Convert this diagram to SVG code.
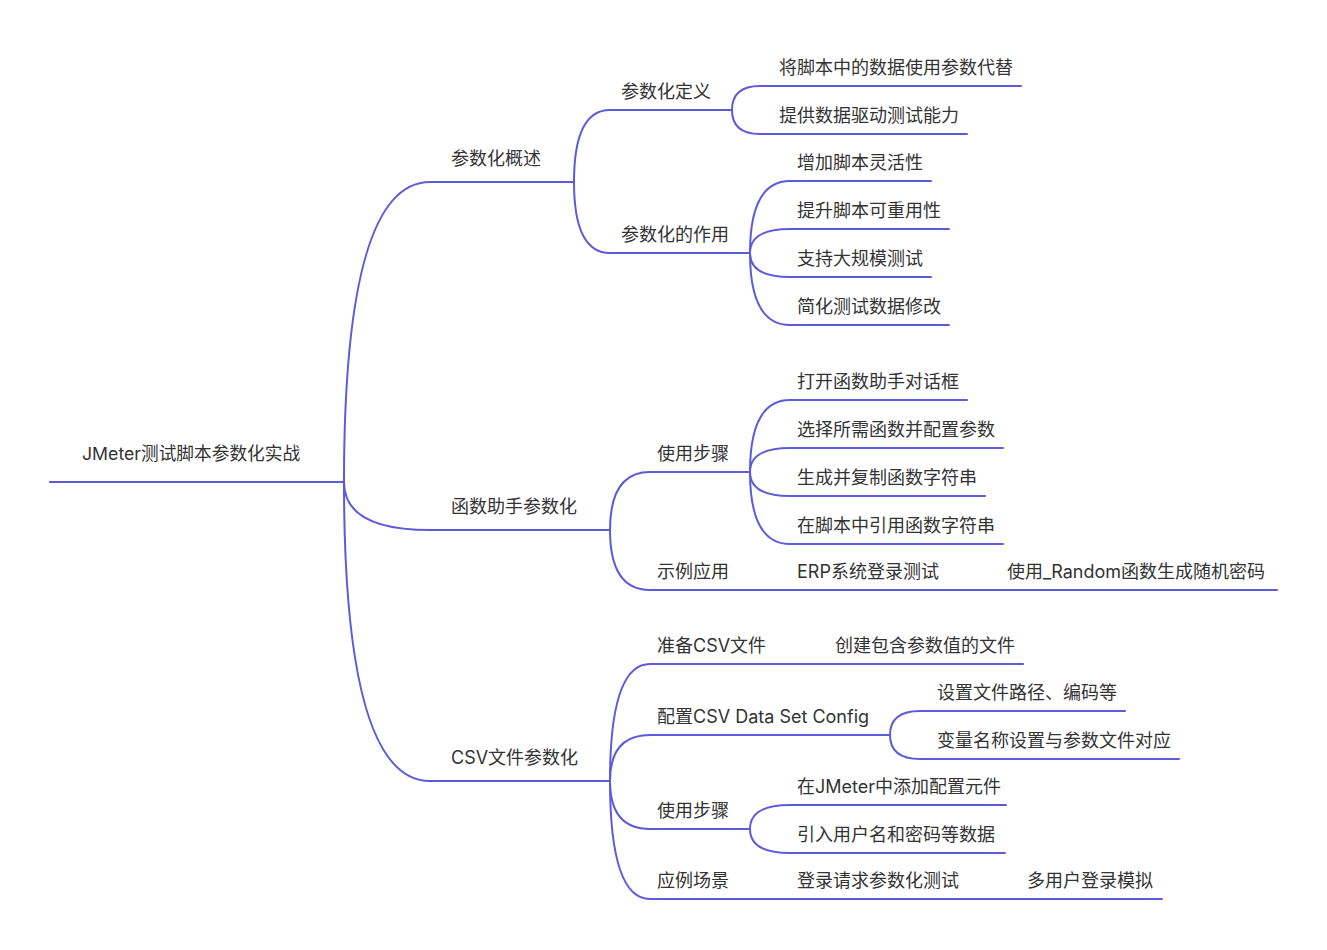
<svg xmlns="http://www.w3.org/2000/svg" width="1327" height="950" viewBox="0 0 1327 950">
<style>
.c{fill:none;stroke:#5b5bdc;stroke-width:2;stroke-linecap:round}
text{font-family:"Inter","Noto Sans CJK SC",sans-serif;font-size:18px;fill:#333}
</style>
<rect width="1327" height="950" fill="#fff"/>
<g id="connectors">
<path class="c" d="M50,482 H344"/>
<path class="c" d="M344,482 Q344,182 430,182 H574"/>
<path class="c" d="M344,482 Q344,530 430,530 H610"/>
<path class="c" d="M344,482 Q344,781 430,781 H610"/>
<path class="c" d="M574,182 Q574,110 610,110 H732"/>
<path class="c" d="M574,182 Q574,253 610,253 H750"/>
<path class="c" d="M732,110 Q732,86 760,86 H1021"/>
<path class="c" d="M732,110 Q732,134 760,134 H967"/>
<path class="c" d="M750,253 Q750,181 790,181 H931"/>
<path class="c" d="M750,253 Q750,229 790,229 H949"/>
<path class="c" d="M750,253 Q750,277 790,277 H931"/>
<path class="c" d="M750,253 Q750,325 790,325 H949"/>
<path class="c" d="M610,530 Q610,472 650,472 H750"/>
<path class="c" d="M610,530 Q610,590 650,590 H1277"/>
<path class="c" d="M750,472 Q750,400 790,400 H967"/>
<path class="c" d="M750,472 Q750,448 790,448 H1003"/>
<path class="c" d="M750,472 Q750,496 790,496 H985"/>
<path class="c" d="M750,472 Q750,544 790,544 H1003"/>
<path class="c" d="M610,781 Q610,664 650,664 H1023"/>
<path class="c" d="M610,781 Q610,735 650,735 H890"/>
<path class="c" d="M610,781 Q610,829 650,829 H750"/>
<path class="c" d="M610,781 Q610,899 650,899 H1162"/>
<path class="c" d="M890,735 Q890,711 920,711 H1125"/>
<path class="c" d="M890,735 Q890,759 920,759 H1179"/>
<path class="c" d="M750,829 Q750,805 790,805 H1006"/>
<path class="c" d="M750,829 Q750,853 790,853 H1005"/>
</g>
<g id="root"><text x="82" y="460" style="font-size:17.7px">JMeter测试脚本参数化实战</text></g>
<g id="n1"><text x="451" y="165">参数化概述</text></g>
<g id="n2"><text x="451" y="513">函数助手参数化</text></g>
<g id="n3"><text x="451" y="764">CSV文件参数化</text></g>
<g id="n1a"><text x="621" y="98">参数化定义</text></g>
<g id="n1b"><text x="621" y="241">参数化的作用</text></g>
<g id="n1a1"><text x="779" y="74">将脚本中的数据使用参数代替</text></g>
<g id="n1a2"><text x="779" y="122">提供数据驱动测试能力</text></g>
<g id="n1b1"><text x="797" y="169">增加脚本灵活性</text></g>
<g id="n1b2"><text x="797" y="217">提升脚本可重用性</text></g>
<g id="n1b3"><text x="797" y="265">支持大规模测试</text></g>
<g id="n1b4"><text x="797" y="313">简化测试数据修改</text></g>
<g id="n2a"><text x="657" y="460">使用步骤</text></g>
<g id="n2b"><text x="657" y="578">示例应用</text></g>
<g id="n2b1"><text x="797" y="578">ERP系统登录测试</text></g>
<g id="n2b1a"><text x="1007" y="578">使用_Random函数生成随机密码</text></g>
<g id="n2a1"><text x="797" y="388">打开函数助手对话框</text></g>
<g id="n2a2"><text x="797" y="436">选择所需函数并配置参数</text></g>
<g id="n2a3"><text x="797" y="484">生成并复制函数字符串</text></g>
<g id="n2a4"><text x="797" y="532">在脚本中引用函数字符串</text></g>
<g id="n3a"><text x="657" y="652">准备CSV文件</text></g>
<g id="n3a1"><text x="835" y="652">创建包含参数值的文件</text></g>
<g id="n3b"><text x="657" y="723">配置CSV Data Set Config</text></g>
<g id="n3b1"><text x="937" y="699">设置文件路径、编码等</text></g>
<g id="n3b2"><text x="937" y="747">变量名称设置与参数文件对应</text></g>
<g id="n3c"><text x="657" y="817">使用步骤</text></g>
<g id="n3c1"><text x="797" y="793">在JMeter中添加配置元件</text></g>
<g id="n3c2"><text x="797" y="841">引入用户名和密码等数据</text></g>
<g id="n3d"><text x="657" y="887">应例场景</text></g>
<g id="n3d1"><text x="797" y="887">登录请求参数化测试</text></g>
<g id="n3d2"><text x="1027" y="887">多用户登录模拟</text></g>
</svg>
